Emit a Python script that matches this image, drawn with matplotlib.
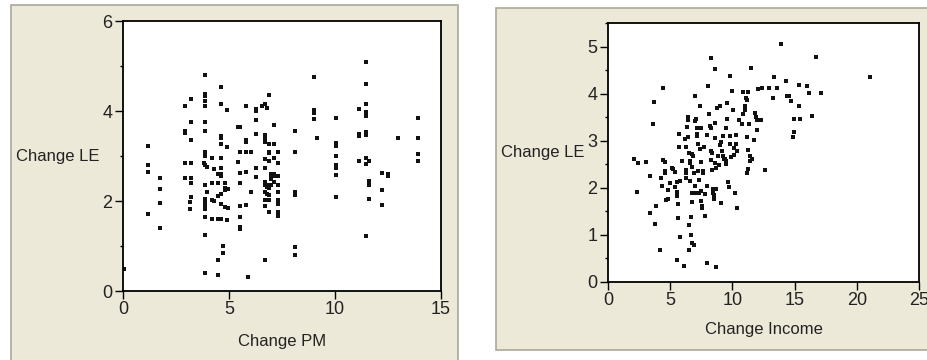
import matplotlib
matplotlib.use("Agg")
import matplotlib.pyplot as plt
from matplotlib.patches import Rectangle
from matplotlib.ticker import MultipleLocator

plt.rcParams['font.family'] = ['Liberation Sans Narrow', 'Liberation Sans', 'DejaVu Sans']

# left chart: PM values come in groups sharing the same x
pm_x = [0.05, 1.2, 1.76, 2.94, 3.15, 3.23, 3.89, 3.8, 3.98, 4.2, 4.27, 4.49, 4.64, 4.71,
        4.83, 4.9, 4.93, 5.43, 5.54, 5.82, 5.9, 6.06, 6.26, 6.29, 6.56, 6.72, 6.77, 6.89,
        7.0, 7.12, 7.32, 8.1, 9.0, 9.13, 10.04, 11.13, 11.44, 11.62, 12.2, 12.48, 12.99, 13.93]
pm_le = [
    [0.50],
    [3.22, 2.79, 2.65, 1.72],
    [2.52, 2.27, 1.96, 1.39],
    [4.12, 3.56, 3.52, 2.85, 2.52],
    [1.97, 1.82],
    [4.26, 3.75, 3.35, 2.85, 2.52, 2.39, 2.08],
    [4.79, 4.38, 4.33, 4.23, 4.11, 3.75, 3.56, 3.09, 3.0, 2.79, 2.36, 2.04, 1.99, 1.93,
     1.87, 1.82, 1.65, 1.25, 0.39],
    [2.85],
    [2.21, 2.76],
    [2.95, 2.39, 2.02, 1.59],
    [2.71, 1.99],
    [2.59, 2.39, 2.12, 1.59, 0.69, 0.35],
    [4.54, 4.16, 3.44, 3.39, 3.26, 2.95, 2.74, 2.61, 2.56, 2.15, 1.93, 1.61],
    [0.99, 0.85],
    [2.41, 2.29, 2.24, 1.87],
    [4.02, 3.19, 1.58],
    [2.27, 1.84],
    [3.65, 2.87],
    [3.65, 3.08, 2.62, 2.41, 1.88, 1.64, 1.43, 1.38],
    [4.11, 3.35, 3.32, 3.08, 2.64, 1.92],
    [0.32],
    [3.1, 2.21],
    [3.79, 3.49, 2.73, 2.53],
    [4.05, 4.0],
    [4.11],
    [4.16, 3.47, 3.41, 3.32, 2.94, 2.74, 2.42, 2.39, 2.35, 2.19, 2.02, 1.9, 0.69],
    [4.07, 2.16, 2.32],
    [4.35, 3.27, 3.1, 3.06, 2.9, 2.36, 2.28, 2.14, 2.03, 1.75],
    [2.6, 2.57, 2.49, 2.36],
    [3.68, 3.27, 2.95, 2.61, 2.56, 2.43],
    [3.08, 2.85, 2.56, 2.36, 2.19, 2.02, 1.93, 1.75, 1.67],
    [3.55, 3.09, 2.19, 2.13, 0.97, 0.79],
    [4.75, 4.02, 3.96, 3.82],
    [3.41],
    [3.85, 3.28, 3.23, 3.01, 2.79, 2.73, 2.58, 2.08],
    [4.05, 3.5, 3.45, 2.88],
    [5.09, 4.59, 4.15, 3.97, 3.91, 3.89, 3.53, 3.47, 2.95, 2.82, 1.22],
    [2.88, 2.45, 2.36, 2.05],
    [2.62, 2.25, 1.92],
    [2.61, 2.56],
    [3.41],
    [3.85, 3.41, 3.05, 2.88],
]

# right chart
income = [2.09, 2.44, 3.03, 2.30, 3.35, 3.35, 3.70, 3.64, 3.78, 3.89, 4.18, 4.39, 4.42, 4.58,
          4.23, 4.34, 4.58, 4.61, 4.64, 4.82, 4.96, 4.82, 5.17, 5.23, 5.36, 5.36, 5.52, 5.57,
          5.57, 5.71, 5.65, 5.65, 5.79, 5.52, 5.71, 5.79, 5.98, 6.11, 6.16, 6.24, 6.24, 6.24,
          6.30, 6.38, 6.43, 6.43, 6.46, 6.51, 6.56, 6.59, 6.62, 6.65, 6.48, 6.65, 6.73, 6.91,
          6.51, 6.78, 6.81, 6.73, 6.73, 6.78, 6.91, 6.97, 6.97, 6.97, 7.02, 7.07, 7.13, 7.13,
          7.18, 7.23, 7.26, 7.32, 7.32, 7.37, 7.40, 7.45, 7.50, 7.50, 7.50, 7.53, 7.58, 7.66,
          7.66, 7.72, 7.77, 7.82, 7.93, 7.93, 7.98, 8.07, 8.15, 8.25, 8.20, 8.25, 8.28, 8.31,
          8.39, 8.39, 8.41, 8.44, 8.49, 8.52, 8.57, 8.57, 8.57, 8.63, 8.68, 8.68, 8.71, 8.74,
          8.84, 8.92, 8.98, 9.00, 9.06, 9.06, 9.19, 9.24, 9.27, 9.32, 9.41, 9.46, 9.54, 9.51,
          9.51, 9.59, 9.67, 9.73, 9.78, 9.78, 9.78, 9.86, 9.99, 10.05, 10.13, 10.13, 10.18,
          10.26, 10.26, 10.34, 10.40, 10.53, 10.74, 10.88, 10.88, 10.99, 10.99, 11.09, 11.20,
          11.23, 11.15, 11.15, 11.25, 11.25, 11.33, 11.39, 11.44, 11.52, 11.60, 11.74, 11.79,
          11.87, 11.95, 12.00, 12.08, 12.27, 12.41, 12.62, 12.94, 13.29, 13.34, 13.56, 13.88,
          14.28, 14.39, 14.55, 14.74, 14.87, 14.93, 14.95, 15.35, 15.38, 15.43, 15.97, 16.18,
          16.40, 16.69, 17.10, 21.06]
inc_le = [2.62, 2.52, 2.55, 1.91, 2.25, 1.46, 3.83, 3.35, 1.24, 1.61, 0.69, 4.11, 2.60, 2.55,
          2.21, 2.04, 2.36, 2.31, 1.75, 1.77, 2.11, 1.96, 2.42, 2.40, 2.33, 2.02, 2.12, 1.91,
          1.82, 3.15, 1.65, 1.36, 0.95, 0.47, 2.87, 2.14, 2.57, 0.35, 3.04, 2.38, 2.31, 2.21,
          2.86, 3.29, 3.51, 3.44, 3.07, 2.74, 2.57, 2.52, 2.14, 1.39, 1.20, 1.00, 0.83, 0.79,
          0.69, 2.72, 2.67, 2.45, 1.90, 1.70, 2.31, 3.95, 2.03, 1.90, 3.42, 3.47, 3.14, 3.09,
          3.28, 2.93, 2.36, 2.16, 1.89, 3.74, 2.82, 2.55, 3.28, 1.94, 1.73, 1.61, 1.58, 2.36,
          2.32, 2.87, 1.87, 1.41, 3.13, 0.40, 2.04, 4.17, 3.56, 4.75, 3.32, 2.59, 3.27, 2.79,
          2.74, 2.37, 1.98, 1.90, 1.85, 1.77, 4.53, 3.06, 3.37, 2.53, 2.43, 1.98, 0.31, 3.70,
          2.68, 2.48, 3.74, 2.90, 2.98, 1.67, 2.78, 3.10, 2.67, 2.61, 2.62, 2.50, 3.47, 3.27,
          2.56, 3.80, 2.12, 2.02, 4.38, 3.10, 2.94, 2.65, 4.05, 3.66, 2.84, 2.70, 1.88,
          3.13, 2.94, 1.58, 2.78, 3.44, 3.35, 4.04, 3.56, 3.74, 3.66, 3.90, 3.86,
          4.04, 3.07, 2.31, 2.80, 2.40, 3.35, 2.57, 2.68, 4.55, 2.62, 3.02, 3.59,
          3.50, 3.22, 3.44, 4.09, 3.43, 4.13, 2.37, 4.13, 3.90, 4.35, 4.12, 5.05,
          4.26, 3.96, 3.95, 3.84, 3.07, 3.19, 3.47, 4.19, 3.74, 3.47, 4.17, 4.02,
          3.53, 4.77, 4.02, 4.35]

pm_xs = []
pm_ys = []
for xv, ys in zip(pm_x, pm_le):
    for yv in ys:
        pm_xs.append(xv)
        pm_ys.append(yv)

beige = '#ECE9D8'
edge = '#ACA899'

fig = plt.figure(figsize=(9.28, 3.6), dpi=100)
fig.patch.set_facecolor('white')
fig.add_artist(Rectangle((11/928, -0.01), 447/928, 1 - 5/360 + 0.01, transform=fig.transFigure,
                         facecolor=beige, edgecolor=edge, lw=1.2, zorder=-10))
fig.add_artist(Rectangle((496/928, 10/360), 440/928, 342/360, transform=fig.transFigure,
                         facecolor=beige, edgecolor=edge, lw=1.2, zorder=-10))

ax1 = fig.add_axes([123/928, 69/360, 318/928, 270/360])
ax2 = fig.add_axes([608/928, 78/360, 311/928, 259/360])


def style(ax):
    ax.set_facecolor('white')
    for s in ax.spines.values():
        s.set_linewidth(1.3)
        s.set_color('black')
    ax.tick_params(which='major', direction='out', length=5.5, width=1, labelsize=13, pad=2,
                   colors='black', labelcolor='#222222')
    ax.tick_params(which='minor', direction='out', length=2.5, width=1)


ax1.plot(pm_xs, pm_ys, 's', ms=2.4, color='#111111', mew=0)
ax1.set_xlim(0, 15)
ax1.set_ylim(0, 6)
ax1.xaxis.set_major_locator(MultipleLocator(5))
ax1.yaxis.set_major_locator(MultipleLocator(2))
ax1.yaxis.set_minor_locator(MultipleLocator(1))
style(ax1)
ax1.set_xlabel('Change PM', fontsize=12, color='#222222', labelpad=11)
ax1.set_ylabel('Change LE', fontsize=12, color='#222222', rotation=0, ha='right', va='center')
ax1.yaxis.set_label_coords(-0.075, 0.5)

ax2.plot(income, inc_le, 's', ms=2.4, color='#111111', mew=0)
ax2.set_xlim(0, 25)
ax2.set_ylim(0, 5.5)
ax2.xaxis.set_major_locator(MultipleLocator(5))
ax2.yaxis.set_major_locator(MultipleLocator(1))
ax2.yaxis.set_minor_locator(MultipleLocator(0.5))
style(ax2)
ax2.set_xlabel('Change Income', fontsize=12, color='#222222', labelpad=9)
ax2.set_ylabel('Change LE', fontsize=12, color='#222222', rotation=0, ha='right', va='center')
ax2.yaxis.set_label_coords(-0.074, 0.5)

fig.savefig('out.png', dpi=100, facecolor=fig.get_facecolor())
